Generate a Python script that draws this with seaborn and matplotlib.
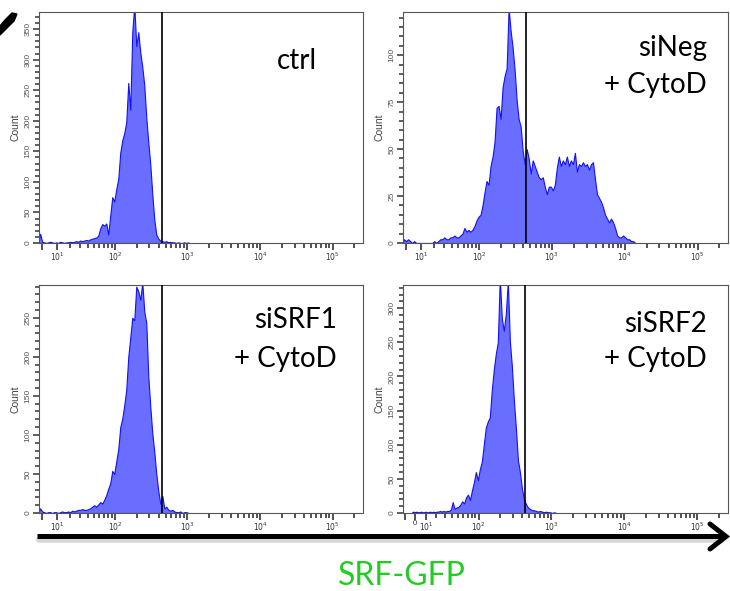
import numpy as np
import pandas as pd
import seaborn as sns
import matplotlib.pyplot as plt
from matplotlib.lines import Line2D
from matplotlib.patches import Polygon

# FlowJo-style display channels: bins are uniform in asinh units (about 2 px each)
LIN_W = 20.0
STEP = 0.0635
K0 = -2
GATE = 440

# counts per channel, first value is channel K0
ctrl = [0, 15, 2, 1, 0, 1, 2, 1, 0, 1, 0, 2, 1, 0, 1, 1, 2, 1, 2, 3,
        2, 4, 3, 4, 5, 4, 6, 7, 8, 9, 12, 24, 31, 28, 32, 14, 45, 75, 68, 88,
        105, 148, 168, 180, 198, 262, 218, 345, 390, 322, 345, 312, 288, 258, 205, 165,
        128, 80, 38, 14, 7, 4, 3, 2, 3, 1, 2, 1, 1, 0, 1, 0, 0, 1, 0, 1]

sineg = [0, 2, 1, 2, 1, 0, 1, 0, 0, 0, 0, 0, 0, 0, 0, 0, 1, 0, 1, 2,
         2, 3, 2, 2, 3, 3, 4, 3, 3, 4, 5, 8, 6, 7, 6, 7, 9, 12, 14, 15,
         20, 27, 33, 31, 41, 46, 54, 72, 73, 66, 83, 89, 93, 125, 113, 104, 92, 76,
         66, 62, 49, 42, 50, 45, 37, 44, 41, 38, 35, 34, 35, 30, 26, 30, 30, 28,
         31, 40, 46, 41, 44, 42, 46, 41, 44, 42, 48, 38, 42, 41, 43, 41, 42, 39,
         42, 43, 34, 26, 24, 22, 19, 15, 13, 11, 13, 11, 8, 4, 3, 3, 4, 3,
         2, 2, 1, 1, 0]

sisrf1 = [0, 6, 2, 1, 0, 1, 1, 0, 1, 1, 0, 1, 2, 1, 1, 2, 1, 3, 2, 3,
          4, 4, 5, 4, 4, 5, 6, 8, 10, 8, 11, 14, 12, 17, 23, 31, 38, 54, 50, 66,
          82, 110, 121, 138, 158, 200, 225, 250, 247, 290, 284, 273, 295, 258, 243, 175,
          136, 102, 78, 50, 28, 12, 22, 6, 8, 4, 3, 4, 2, 1, 1, 2, 0, 1, 1, 0]

sisrf2 = [1, 2, 1, 2, 1, 1, 2, 1, 1, 2, 1, 1, 2, 1, 2, 1, 2, 2, 3, 2,
          3, 2, 3, 3, 5, 16, 6, 8, 9, 12, 17, 14, 23, 27, 19, 33, 45, 60, 48, 64,
          75, 100, 125, 134, 140, 180, 210, 233, 250, 345, 285, 267, 292, 340, 252, 215,
          165, 125, 78, 60, 36, 20, 13, 8, 6, 4, 4, 3, 2, 3, 2, 1, 2, 1, 1, 0, 1, 0]

labels = [["ctrl"], ["siNeg", "+ CytoD"], ["siSRF1", "+ CytoD"], ["siSRF2", "+ CytoD"]]
y_max = [378, 123, 292, 334]
y_major = [50, 25, 50, 50]
y_minor = [10, 5, 10, 10]
x_major = [10, 100, 1000, 10000, 100000]
x_labels = [r"$10^{1}$", r"$10^{2}$", r"$10^{3}$", r"$10^{4}$", r"$10^{5}$"]

FILL = "#6a6eff"
EDGE = "#1010ff"
W, H = 730, 591

sns.set_style("ticks")
plt.rcParams["font.family"] = ["Liberation Sans", "DejaVu Sans"]

fig = plt.figure(figsize=(W / 100, H / 100), dpi=100)

# panel boxes in pixels: left, top, right, bottom
boxes = [(39, 12, 363, 243), (403, 12, 728, 243), (39, 285, 363, 513), (403, 285, 728, 513)]
# x limits and linear widths (last panel uses a wider linear region)
xlims = [(-2, 262144), (-2, 262144), (-2, 262144), (-10.7, 262144)]
lin_ws = [20, 20, 20, 27.5]

minor_x = [m * 10 ** d for d in range(1, 5) for m in range(2, 10)] + [200000]

for i, counts in enumerate([ctrl, sineg, sisrf1, sisrf2]):
    l, t, r, b = boxes[i]
    ax = fig.add_axes([l / W, 1 - b / H, (r - l) / W, (b - t) / H])
    k = np.arange(K0, K0 + len(counts))
    df = pd.DataFrame({"gfp": LIN_W * np.sinh(k * STEP), "n": counts})
    edges = LIN_W * np.sinh((np.arange(K0, K0 + len(counts) + 1) - 0.5) * STEP)
    sns.histplot(data=df, x="gfp", weights="n", bins=list(edges), element="poly",
                 fill=True, color=FILL, edgecolor=EDGE, linewidth=0.8, alpha=1, ax=ax)
    ax.axvline(GATE, color="black", lw=1.2, zorder=5)

    ax.set_xscale("asinh", linear_width=lin_ws[i])
    ax.set_xlim(*xlims[i])
    ax.set_ylim(0, y_max[i])
    if i == 3:
        ax.set_xticks([-9, 0] + x_major)
        ax.set_xticklabels(["", "0"] + x_labels)
    else:
        ax.set_xticks([0] + x_major)
        ax.set_xticklabels([""] + x_labels)
    ax.set_xticks(minor_x, minor=True)
    ax.set_yticks(np.arange(0, y_max[i], y_major[i]))
    ax.set_yticks(np.arange(0, y_max[i], y_minor[i]), minor=True)
    ax.set_yticklabels([str(v) for v in np.arange(0, y_max[i], y_major[i])],
                       rotation=90, va="center")
    ax.xaxis.set_tick_params(which="major", length=4.8, width=1.1, pad=0.5,
                             labelsize=5.5, color="#222222", labelcolor="#333333")
    ax.xaxis.set_tick_params(which="minor", length=3.4, width=1.1, color="#222222")
    ax.yaxis.set_tick_params(which="major", length=4.2, width=1.1, pad=1,
                             labelsize=6, color="#333333", labelcolor="#555555")
    ax.yaxis.set_tick_params(which="minor", length=2.8, width=1.1, color="#333333")
    for s in ax.spines.values():
        s.set_visible(True)
        s.set_color("#555555")
        s.set_linewidth(0.8)
    ax.set_xlabel("")
    ax.set_ylabel("Count", fontsize=7.5, color="#444444", labelpad=3)

# sample names
name_pos = [[(297, 69, "center")],
            [(707, 56, "right"), (707, 93, "right")],
            [(337, 328, "right"), (337, 367, "right")],
            [(707, 332, "right"), (707, 367, "right")]]
for lines, pos in zip(labels, name_pos):
    for txt, (x, y, ha) in zip(lines, pos):
        fig.text(x / W, 1 - y / H, txt, ha=ha, va="baseline", fontsize=20,
                 family=["Lato", "DejaVu Sans"], color="black")

fx = lambda x: x / W
fy = lambda y: 1 - y / H

# cropped panel letter at the top-left corner
mark = [(5, 20), (12, 13), (17, 14), (14, 21), (5, 30), (0, 35), (0, 26)]
fig.add_artist(Polygon([(fx(x), fy(y)) for x, y in mark], closed=True,
                       color="black", transform=fig.transFigure))

# common x arrow with a soft shadow
fig.add_artist(Line2D([fx(39), fx(722)], [fy(540), fy(540)], color="#bbbbbb",
                      lw=4, alpha=0.6, transform=fig.transFigure))
fig.add_artist(Line2D([fx(37), fx(724)], [fy(536), fy(536)], color="black",
                      lw=3.6, solid_capstyle="butt", transform=fig.transFigure))
fig.add_artist(Line2D([fx(710), fx(726), fx(710)], [fy(524), fy(536.5), fy(549)],
                      color="black", lw=3.6, solid_capstyle="round",
                      solid_joinstyle="miter", transform=fig.transFigure))

fig.text(fx(402), fy(585), "SRF-GFP", ha="center", va="baseline", fontsize=23,
         color="#22cc22", family=["Lato", "DejaVu Sans"])

fig.savefig("out.png", dpi=100)
